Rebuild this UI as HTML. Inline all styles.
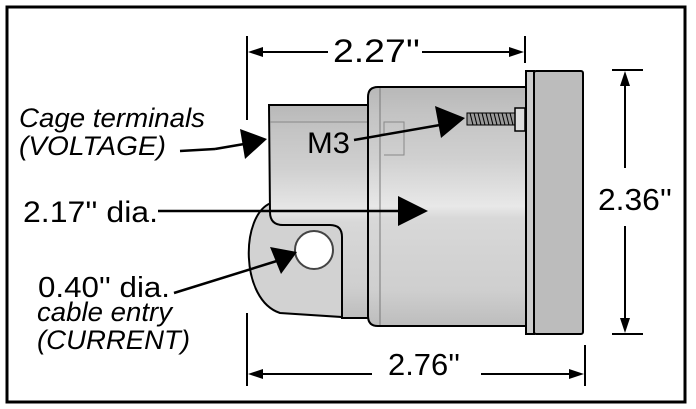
<!DOCTYPE html>
<html><head><style>
html,body{margin:0;padding:0;background:#fff;}
svg{display:block;}
text{font-family:"Liberation Sans",sans-serif;fill:#000;}
</style></head><body>
<svg width="696" height="409" viewBox="0 0 696 409" xmlns="http://www.w3.org/2000/svg">
<defs>
<linearGradient id="g" x1="0" y1="0" x2="0" y2="1">
<stop offset="0" stop-color="#b8b8b8"/>
<stop offset="0.12" stop-color="#c4c4c4"/>
<stop offset="0.3" stop-color="#d0d0d0"/>
<stop offset="0.5" stop-color="#e8e8e8"/>
<stop offset="0.55" stop-color="#d8d8d8"/>
<stop offset="0.85" stop-color="#cfcfcf"/>
<stop offset="1" stop-color="#bdbdbd"/>
</linearGradient>
</defs>
<rect x="7" y="7" width="678" height="395" fill="#fff" stroke="#000" stroke-width="3"/>
<!-- lobe -->
<path d="M271,203 C240,215 240,300 280,313 L342,317 L342,235 Q342,225 330,225 L283,225 Q271,225 271,212 Z" fill="#d2d2d2" stroke="#000" stroke-width="2"/>
<!-- terminal box -->
<path d="M269,105 L370,105 L370,318 L342,318 L342,237 Q342,225 330,225 L283,225 Q270,225 270,212 Z" fill="url(#g)" stroke="#000" stroke-width="2"/>
<line x1="270" y1="122" x2="370" y2="122" stroke="#888" stroke-width="1"/>
<circle cx="314" cy="250" r="19" fill="#fff" stroke="#444" stroke-width="2"/>
<!-- main cylinder -->
<path d="M378,87 L527,87 L527,326 L378,326 Q368,326 368,316 L368,97 Q368,87 378,87 Z" fill="url(#g)" stroke="#000" stroke-width="2"/>
<line x1="380" y1="88" x2="380" y2="325" stroke="#777" stroke-width="1"/>
<path d="M380,134 L384,134 L384,122 L404,122 L404,155 L384,155" fill="none" stroke="#888" stroke-width="1"/>
<!-- flange -->
<rect x="526" y="71" width="8" height="263" fill="#ccc" stroke="#000" stroke-width="2"/>
<rect x="534" y="71" width="49" height="263" rx="2" fill="#bcbcbc" stroke="#000" stroke-width="2"/>
<!-- screw -->
<rect x="467" y="113" width="48" height="12" fill="#999" stroke="#000" stroke-width="1"/>
<path d="M470,113 l3,12 M474,113 l3,12 M478,113 l3,12 M482,113 l3,12 M486,113 l3,12 M490,113 l3,12 M494,113 l3,12 M498,113 l3,12 M502,113 l3,12 M506,113 l3,12 M510,113 l3,12" stroke="#000" stroke-width="1"/>
<rect x="515" y="108" width="10" height="23" fill="#ddd" stroke="#000" stroke-width="1.5"/>
<!-- dimension lines -->
<g stroke="#000" stroke-width="2" fill="none">
<line x1="247" y1="36" x2="247" y2="120"/>
<line x1="247" y1="313" x2="247" y2="386"/>
<line x1="525" y1="36" x2="525" y2="63"/>
<line x1="585" y1="345" x2="585" y2="386"/>
<line x1="262" y1="52" x2="328" y2="52"/>
<line x1="422" y1="52" x2="510" y2="52"/>
<line x1="262" y1="374" x2="372" y2="374"/>
<line x1="481" y1="374" x2="570" y2="374"/>
<line x1="612" y1="70" x2="643" y2="70"/>
<line x1="612" y1="334" x2="643" y2="334"/>
<line x1="625" y1="84" x2="625" y2="168"/>
<line x1="625" y1="226" x2="625" y2="320"/>
</g>
<g fill="#000">
<path d="M248,52 L263,47 L263,57z"/>
<path d="M524,52 L509,47 L509,57z"/>
<path d="M248,374 L263,369 L263,379z"/>
<path d="M584,374 L569,369 L569,379z"/>
<path d="M625,71 L620,86 L630,86z"/>
<path d="M625,333 L620,318 L630,318z"/>
</g>
<!-- leaders -->
<g stroke="#000" stroke-width="2.5" fill="none">
<line x1="180" y1="151" x2="215" y2="149"/>
<line x1="215" y1="149" x2="250" y2="143"/>
<line x1="158" y1="211" x2="400" y2="211"/>
<line x1="174" y1="293" x2="280" y2="260"/>
<line x1="354" y1="140" x2="440" y2="125"/>
</g>
<g fill="#000">
<path d="M267,139 L240,129 L245,159z"/>
<path d="M428,211 L398,196 L398,226z"/>
<path d="M297,252 L270,247 L281,274z"/>
<path d="M465,118 L435,106 L441,138z"/>
</g>
<!-- labels -->
<text x="19" y="127" font-size="27" font-style="italic" textLength="186" lengthAdjust="spacingAndGlyphs">Cage terminals</text>
<text x="19" y="155" font-size="27" font-style="italic" textLength="147" lengthAdjust="spacingAndGlyphs">(VOLTAGE)</text>
<text x="23" y="222" font-size="30" textLength="135" lengthAdjust="spacingAndGlyphs">2.17'' dia.</text>
<text x="38" y="297" font-size="29" textLength="132" lengthAdjust="spacingAndGlyphs">0.40'' dia.</text>
<text x="37" y="321" font-size="27" font-style="italic" textLength="135" lengthAdjust="spacingAndGlyphs">cable entry</text>
<text x="37" y="349" font-size="27" font-style="italic" textLength="153" lengthAdjust="spacingAndGlyphs">(CURRENT)</text>
<text x="307" y="153" font-size="30" textLength="43" lengthAdjust="spacingAndGlyphs">M3</text>
<text x="333" y="62" font-size="32" textLength="87" lengthAdjust="spacingAndGlyphs">2.27''</text>
<text x="388" y="375" font-size="31" textLength="72" lengthAdjust="spacingAndGlyphs">2.76''</text>
<text x="598" y="210" font-size="31" textLength="74" lengthAdjust="spacingAndGlyphs">2.36''</text>
</svg>
</body></html>
